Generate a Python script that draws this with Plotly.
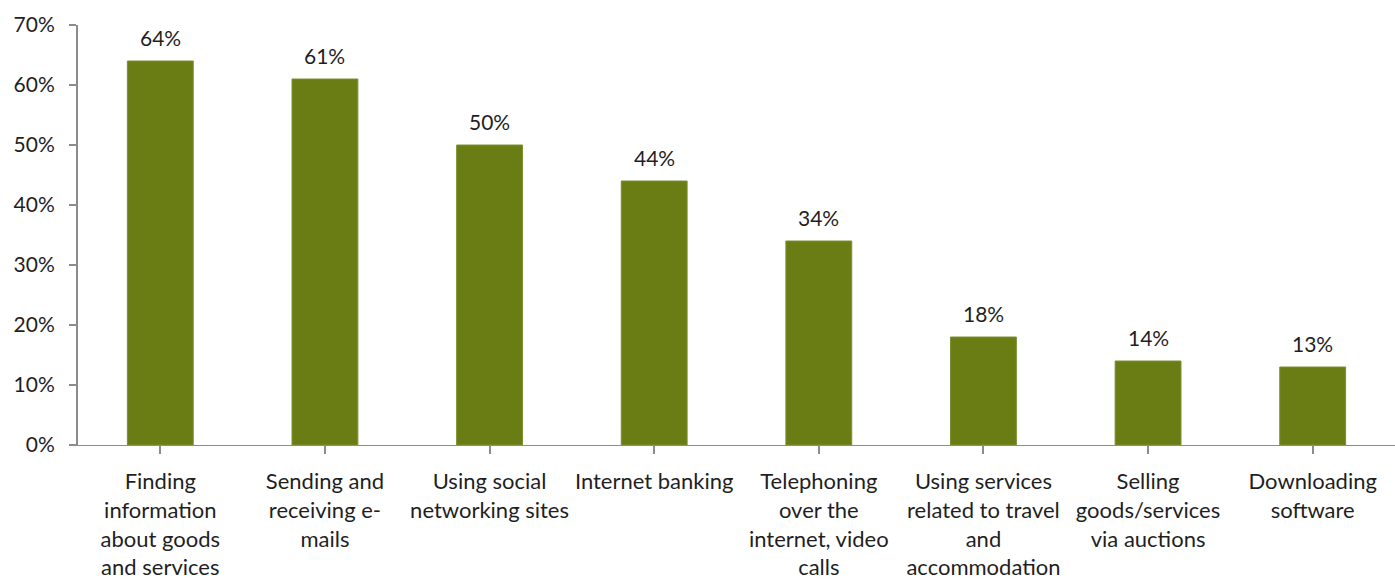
import plotly.graph_objects as go

categories = [
    "Finding<br>information<br>about goods<br>and services",
    "Sending and<br>receiving e-<br>mails",
    "Using social<br>networking sites",
    "Internet banking",
    "Telephoning<br>over the<br>internet, video<br>calls",
    "Using services<br>related to travel<br>and<br>accommodation",
    "Selling<br>goods/services<br>via auctions",
    "Downloading<br>software",
]
values = [64, 61, 50, 44, 34, 18, 14, 13]
labels = ["64%", "61%", "50%", "44%", "34%", "18%", "14%", "13%"]
y_ticks = [0, 10, 20, 30, 40, 50, 60, 70]
y_tick_labels = ["0%", "10%", "20%", "30%", "40%", "50%", "60%", "70%"]

FONT = "Lato"
TXT = "#1f1f1f"
AX = "#8c8c8c"

x_idx = list(range(len(categories)))

fig = go.Figure(
    go.Bar(
        x=x_idx,
        y=values,
        marker=dict(color="#6a7d15", line=dict(color="#7d8f30", width=1)),
        width=0.4,
        hoverinfo="skip",
    )
)

for xi, v, t in zip(x_idx, values, labels):
    fig.add_annotation(
        x=xi, y=v, text=t, showarrow=False, yanchor="bottom", yshift=9,
        font=dict(family=FONT, size=21, color=TXT),
    )

fig.update_layout(
    width=1395,
    height=579,
    margin=dict(l=78, r=0, t=25, b=134),
    paper_bgcolor="white",
    plot_bgcolor="white",
    showlegend=False,
    font=dict(family=FONT, size=21, color=TXT),
)
fig.update_xaxes(
    tickmode="array",
    tickvals=x_idx,
    ticktext=categories,
    range=[-0.5, 7.5],
    showline=True,
    linecolor=AX,
    linewidth=1,
    ticks="outside",
    tickson="boundaries",
    ticklen=8,
    tickcolor=AX,
    tickwidth=2,
    showgrid=False,
    zeroline=False,
    ticklabelstandoff=9,
    tickfont=dict(family=FONT, size=22, color=TXT),
)
fig.update_yaxes(
    range=[0, 70],
    tickmode="array",
    tickvals=y_ticks,
    ticktext=y_tick_labels,
    showline=True,
    linecolor=AX,
    linewidth=2,
    ticks="outside",
    ticklen=7,
    tickcolor=AX,
    tickwidth=2,
    showgrid=False,
    zeroline=False,
    ticklabelstandoff=10,
    tickfont=dict(family=FONT, size=21, color=TXT),
)

fig.write_html("out.html")
